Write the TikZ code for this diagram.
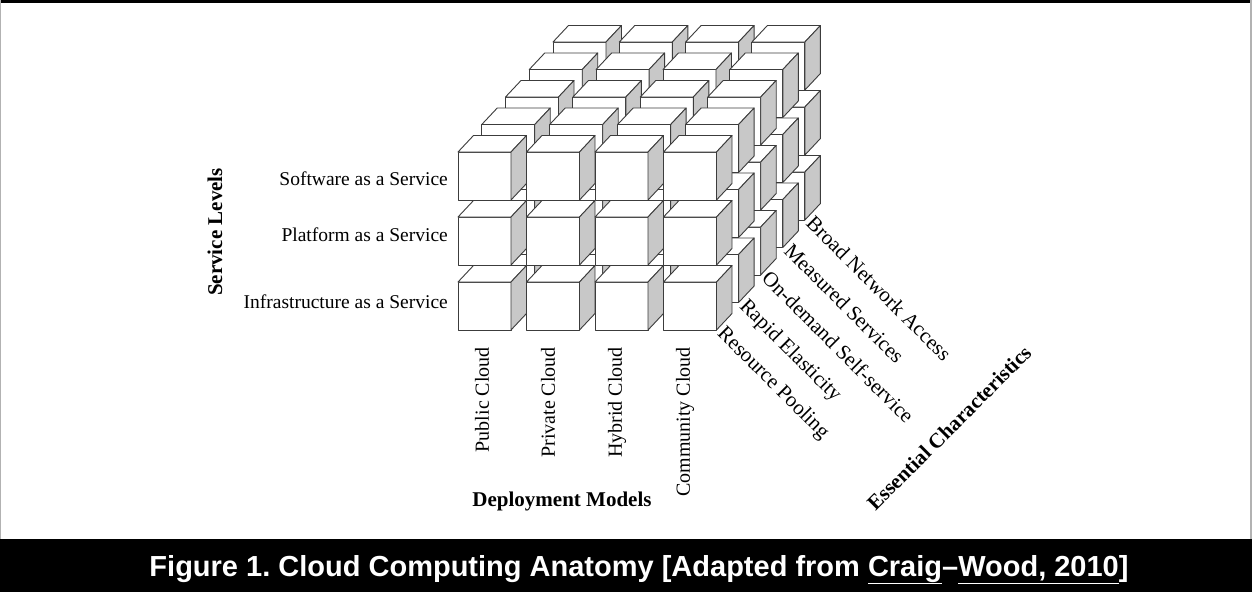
\documentclass[tikz,border=0pt]{standalone}
\usepackage{fontspec}
\setmainfont{Liberation Serif}
\newfontfamily\capfont{Liberation Sans}
\definecolor{sidegray}{RGB}{200,200,200}
\definecolor{edgegray}{RGB}{60,60,60}
\newcommand\myul[1]{\underline{#1\vphantom{g}}}
\frenchspacing
\begin{document}
\begin{tikzpicture}[x=1pt,y=-1pt,
  edge/.style={draw=edgegray, line width=0.9pt, line join=round},
  frontface/.style={edge, fill=white},
  topface/.style={edge, fill=white},
  sideface/.style={edge, fill=sidegray},
  rowlabel/.style={font=\fontsize{19.5}{22}\selectfont, inner sep=0pt, anchor=base east},
  collabel/.style={font=\fontsize{20}{22}\selectfont, inner sep=0pt, anchor=east, rotate=90},
  charlabel/.style={font=\fontsize{21}{23}\selectfont, inner sep=0pt, anchor=north west, rotate=-45},
  axislabel/.style={font=\bfseries\fontsize{21}{24}\selectfont, inner sep=0pt},
  cube/.pic={
    \path[frontface] (0,0) rectangle (53,48);
    \path[topface] (0,0) -- (15.5,-16.5) -- (68.5,-16.5) -- (53,0) -- cycle;
    \path[sideface] (53,0) -- (68.5,-16.5) -- (68.5,31.5) -- (53,48) -- cycle;
  }]
\useasboundingbox (0,0) rectangle (1252,592);
% background and frame
\fill[white] (0,0) rectangle (1252,592);
\fill[black] (0,0) rectangle (1252,3);
\draw[gray!60, line width=1.2pt] (0.6,0) -- (0.6,539);
\draw[gray!60, line width=1.2pt] (1251,0) -- (1251,539);
\fill[black] (0,538.5) rectangle (1252,592);
% cubes, back layer first
\foreach \k in {4,3,2,1,0} {
  \foreach \r in {0,1,2} {
    \foreach \c in {0,1,2,3} {
      \pgfmathsetmacro\cx{458 + \c*(68.5-0.55*\k) + 23.75*\k}
      \pgfmathsetmacro\cy{152 + 65*\r - 27.5*\k}
      \pic at (\cx,\cy) {cube};
    }
  }
}
% service levels
\node[axislabel, rotate=90] (sl) at (215,232) {Service Levels};
\node[rowlabel] (saas) at (448,185) {Software as a Service};
\node[rowlabel] (paas) at (448,241) {Platform as a Service};
\node[rowlabel] (iaas) at (448,308) {Infrastructure as a Service};
% deployment models
\node[collabel] (pub) at (482,347) {Public Cloud};
\node[collabel] (pri) at (548,347) {Private Cloud};
\node[collabel] (hyb) at (617,347) {Hybrid Cloud};
\node[collabel] (com) at (685,347) {Community Cloud};
\node[axislabel] (dm) at (562,501) {Deployment Models};
% essential characteristics
\foreach \k/\t in {0/Resource Pooling, 1/Rapid Elasticity, 2/On-demand Self-service, 3/Measured Services, 4/Broad Network Access} {
  \pgfmathsetmacro\mx{458 + 3*(68.5-0.55*\k) + 23.75*\k + 53 + 10.5}
  \pgfmathsetmacro\my{330 - 27.5*\k - 6}
  \node[charlabel] (ch\k) at (\mx,\my) {\t};
}
\node[axislabel, rotate=45] (ec) at (949,428) {Essential Characteristics};
% caption
\node[font=\capfont\bfseries\fontsize{29}{32}\selectfont, text=white, inner sep=0pt, anchor=base] (cap) at (639,576) {Figure 1. Cloud Computing Anatomy [Adapted from \myul{Craig}–\myul{Wood, 2010}]};
\end{tikzpicture}
\end{document}
